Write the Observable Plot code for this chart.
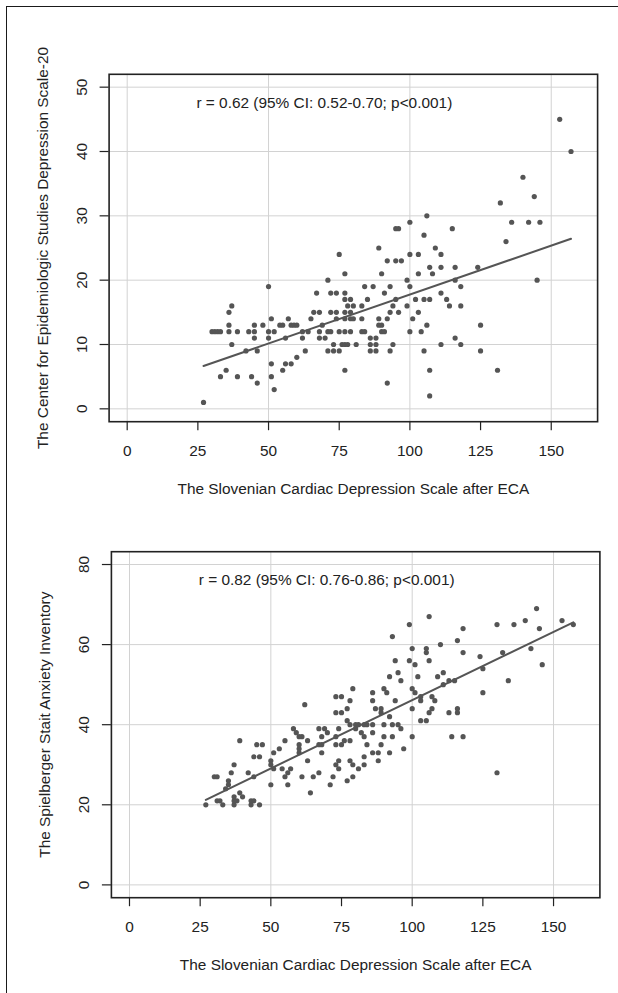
<!DOCTYPE html>
<html>
<head>
<meta charset="utf-8">
<script src="https://cdn.jsdelivr.net/npm/d3@7"></script>
<script src="https://cdn.jsdelivr.net/npm/@observablehq/plot@0.6"></script>
<style>
  html, body { margin: 0; padding: 0; background: #fff; }
  body { width: 618px; height: 993px; overflow: hidden; position: relative;
         font-family: "Liberation Sans", Arial, sans-serif; }
  #outer { position: absolute; left: 6px; top: 6px; width: 700px; height: 1100px;
           border-left: 1.5px solid #1a1a1a; border-top: 1.5px solid #1a1a1a; box-sizing: border-box; }
  .panel { position: absolute; left: 0; }
  .panel svg { overflow: visible; }
</style>
</head>
<body>
<div id="outer"></div>
<div id="p1" class="panel" style="top:0px"></div>
<div id="p2" class="panel" style="top:520px"></div>
<script>
// ---- tick labels & text ----
const xTicks = [0, 25, 50, 75, 100, 125, 150];
const xGrid = [0, 50, 100, 150];
const yTicks1 = [0, 10, 20, 30, 40, 50];
const yTicks2 = [0, 20, 40, 60, 80];
const xTitle = "The Slovenian Cardiac Depression Scale after ECA";
const yTitle1 = "The Center for Epidemiologic Studies Depression Scale-20";
const yTitle2 = "The Spielberger Stait Anxiety Inventory";
const note1 = "r = 0.62 (95% CI: 0.52-0.70; p<0.001)";
const note2 = "r = 0.82 (95% CI: 0.76-0.86; p<0.001)";

// ---- panel 1: SCDS vs CES-D-20 ----
const scds1 = [
  153,157,140,144,132,106,95,96,100,115,136,142,146,105,134,89,109,
  75,100,103,111,
  92,95,97,
  107,111,116,124,
  77,90,103,108,
  71,99,116,145,
  84,87,93,100,118,
  67,72,74,77,91,111,
  77,79,85,95,102,105,107,113,
  78,80,83,94,99,114,118,
  66,68,72,74,77,79,93,96,103,
  65,74,77,79,80,83,89,92,101,
  69,89,90,106,125,
  62,64,68,71,72,75,77,79,83,84,90,91,100,104,
  62,68,70,86,88,116,
  73,76,77,78,81,86,88,94,111,118,
  63,71,73,75,86,88,93,105,125,
  77,107,131,
  92,107,
  50,37,36,51,57,
  36,45,48,54,55,58,59,60,
  30,31,32,33,36,39,43,45,50,52,
  45,50,56,
  37,42,46,60,51,56,58,35,55,
  33,39,44,51,46,52,27
];
const cesd = [
  45,40,36,33,32,30,28,28,29,28,29,29,29,27,26,25,25,
  24,24,24,24,
  23,23,23,
  22,22,22,22,
  21,21,21,21,
  20,20,20,20,
  19,19,19,19,19,
  18,18,18,18,18,18,
  17,17,17,17,17,17,17,17,
  16,16,16,16,16,16,16,
  15,15,15,15,15,15,15,15,15,
  14,14,14,14,14,14,14,14,14,
  13,13,13,13,13,
  12,12,12,12,12,12,12,12,12,12,12,12,12,12,
  11,11,11,11,11,11,
  10,10,10,10,10,10,10,10,10,10,
  9,9,9,9,9,9,9,9,9,
  6,6,6,
  4,2,
  19,16,15,14,14,
  13,13,13,13,13,13,13,13,
  12,12,12,12,12,12,12,12,12,12,
  11,11,11,
  10,9,9,8,7,7,7,6,6,
  5,5,5,5,4,3,1
];
const fit1 = [2.55, 0.1521]; // intercept, slope of the fitted line

// ---- panel 2: SCDS vs STAI ----
const scds2 = [
  144,106,153,157,130,136,140,99,118,145,93,116,110,100,105,105,142,118,132,124,
  94,99,106,101,146,125,95,111,92,102,109,96,113,115,134,111,79,90,100,86,91,101,125,
  73,75,103,107,78,86,94,103,108,
  62,73,75,77,87,89,89,92,100,103,105,106,107,113,116,116,100,114,118,130,
  61,63,67,69,68,70,67,68,68,63,73,75,76,78,74,73,77,78,80,81,83,84,80,82,86,86,
  90,93,95,96,83,90,93,84,89,97,86,88,92,83,83,88,78,79,81,74,73,74,67,65,61,72,79,77,71,64,
  58,59,60,60,60,60,55,53,51,50,50,51,45,47,44,46,39,54,55,57,56,50,56,44,42,37,36,
  30,31,35,35,34,39,37,40,31,32,37,38,43,44,27,33,37,43,46
];
const stai = [
  69,67,66,65,65,65,66,65,64,64,62,61,60,59,59,58,59,58,58,57,
  56,56,56,55,55,54,53,53,52,52,52,51,51,51,51,50,49,49,49,48,48,48,48,
  47,47,47,47,46,46,46,46,46,
  45,43,43,44,44,44,43,42,44,41,41,43,44,43,44,43,37,37,37,28,
  37,36,39,39,37,38,35,35,33,31,35,35,36,36,39,37,41,40,40,40,40,40,39,38,40,38,
  40,40,40,39,37,37,37,35,35,34,33,33,33,32,30,31,31,30,29,31,30,29,28,27,27,27,27,26,25,23,
  39,38,37,35,34,33,36,34,33,31,30,29,35,35,32,32,36,29,27,29,28,25,25,27,28,30,28,
  27,27,26,25,24,23,22,22,21,21,21,21,21,21,20,20,20,20,20
];
const fit2 = [12.03, 0.341]; // intercept, slope of the fitted line

const FONT = "Liberation Sans, Arial, sans-serif";
const FS = 15.4;
const INK = "#222";

function panel({xs, ys, fit, yDomain, yTicks, yTitle, note, height, mTop, mBottom, mLeft, mRight}) {
  const pts = xs.map((x, i) => ({x, y: ys[i]}));
  const ext = d3.extent(xs);
  const fitLine = ext.map(x => ({x, y: fit[0] + fit[1] * x}));
  const txt = {fontSize: FS, fill: INK, textAnchor: "middle", lineAnchor: "middle"};
  return Plot.plot({
    width: 618,
    height,
    marginTop: mTop, marginBottom: mBottom, marginLeft: mLeft, marginRight: mRight,
    x: {domain: [-6.4, 166.4]},
    y: {domain: yDomain},
    style: {fontFamily: FONT, fontSize: FS + "px", color: INK, background: "transparent", overflow: "visible"},
    marks: [
      Plot.gridX(xGrid, {stroke: "#d2d2d2", strokeOpacity: 1, strokeWidth: 1}),
      Plot.gridY(yTicks, {stroke: "#d2d2d2", strokeOpacity: 1, strokeWidth: 1}),
      Plot.dot(pts, {x: "x", y: "y", r: 2.6, fill: "#555", stroke: "none"}),
      Plot.line(fitLine, {x: "x", y: "y", stroke: "#555", strokeWidth: 2}),
      Plot.frame({stroke: "#222", strokeWidth: 1.6}),
      Plot.axisX(xTicks, {tickSize: 9, tickFormat: () => "", label: null, stroke: "#222", strokeWidth: 1.2}),
      Plot.axisY(yTicks, {tickSize: 9, tickFormat: () => "", label: null, stroke: "#222", strokeWidth: 1.2}),
      Plot.text(xTicks, {x: d => d, text: d => String(d), frameAnchor: "bottom", dy: 29.5, ...txt}),
      Plot.text(yTicks, {y: d => d, text: d => String(d), frameAnchor: "left", dx: -27, rotate: -90, ...txt}),
      Plot.text([xTitle], {text: d => d, frameAnchor: "bottom", dy: 67.5, ...txt}),
      Plot.text([yTitle], {text: d => d, frameAnchor: "left", dx: -66, rotate: -90, ...txt}),
      Plot.text([note], {text: d => d, frameAnchor: "top", dx: -29, dy: 28.5, ...txt})
    ]
  });
}

document.getElementById("p1").appendChild(panel({
  xs: scds1, ys: cesd, fit: fit1, yDomain: [-2, 52], yTicks: yTicks1, yTitle: yTitle1, note: note1,
  height: 520, mTop: 73.8, mBottom: 520 - 421.2, mLeft: 108.6, mRight: 618 - 597.1
}));
document.getElementById("p2").appendChild(panel({
  xs: scds2, ys: stai, fit: fit2, yDomain: [-3.2, 83.2], yTicks: yTicks2, yTitle: yTitle2, note: note2,
  height: 473, mTop: 551.2 - 520, mBottom: 993 - 897.2, mLeft: 110.9, mRight: 618 - 599.4
}));
</script>
</body>
</html>
